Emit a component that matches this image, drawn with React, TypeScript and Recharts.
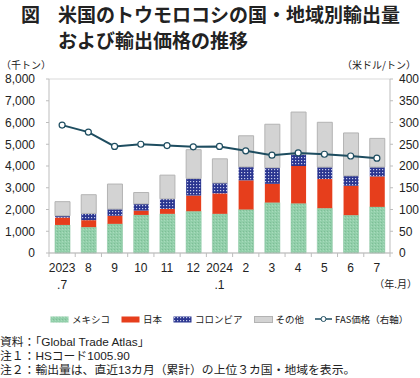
import {
    ComposedChart,
    Bar,
    Line,
    XAxis,
    YAxis,
    CartesianGrid,
} from "recharts";

// months (x categories)
const months = ["2023\n.7", "8", "9", "10", "11", "12", "2024\n.1", "2", "3", "4", "5", "6", "7"];
// export volume by destination (thousand tons)
const mexico = [1290, 1190, 1340, 1750, 1800, 1920, 1800, 2000, 2320, 2280, 2060, 1740, 2120];
const japan = [340, 320, 370, 200, 230, 720, 940, 1340, 860, 1720, 1340, 1350, 1400];
const colombia = [80, 310, 310, 310, 460, 790, 480, 620, 740, 540, 550, 460, 430];
const other = [650, 860, 1150, 520, 1090, 1320, 1110, 1430, 2000, 1940, 2060, 1970, 1320];
// FAS price (USD/ton, right axis)
const price = [294, 278, 245, 250, 247, 244, 245, 235, 225, 230, 227, 223, 218];

const leftTicks = [0, 1000, 2000, 3000, 4000, 5000, 6000, 7000, 8000];
const rightTicks = [0, 50, 100, 150, 200, 250, 300, 350, 400];

const notes = [
    "資料：「Global Trade Atlas」",
    "注１：HSコード1005.90",
    "注２：輸出量は、直近13カ月（累計）の上位３カ国・地域を表示。",
];

const data = months.map((m, i) => ({
    month: m,
    mexico: mexico[i],
    japan: japan[i],
    colombia: colombia[i],
    other: other[i],
    price: price[i],
}));

const W = 420;
const LEFT = 49;
const RIGHT = 30;
const BAND = (W - LEFT - RIGHT) / months.length;
const AXIS = "#BDBDBD";
const LINE = "#1E4D60";
const NUM_FONT = "'Liberation Sans', Arial, 'Noto Sans CJK JP', sans-serif";
const JP_FONT = "'Noto Sans CJK JP', 'Liberation Sans', sans-serif";

const MonthTick = (props: any) => {
    const { x, y, payload, index } = props;
    const lines = String(payload.value).split("\n");
    return (
        <g>
            <line x1={x - BAND / 2} y1={y} x2={x - BAND / 2} y2={y + 4} stroke={AXIS} />
            {index === months.length - 1 && (
                <line x1={x + BAND / 2} y1={y} x2={x + BAND / 2} y2={y + 4} stroke={AXIS} />
            )}
            {lines.map((t, i) => (
                <text
                    key={i}
                    x={x}
                    y={y + 19 + i * 17}
                    textAnchor="middle"
                    fontSize={12}
                    fontFamily={NUM_FONT}
                    fill="#222"
                >
                    {t}
                </text>
            ))}
        </g>
    );
};

const Patterns = () => (
    <svg width={0} height={0} style={{ position: "absolute" }}>
        <defs>
            <pattern id="pMex" width={3} height={3} patternUnits="userSpaceOnUse">
                <rect width={3} height={3} fill="#92CFAA" />
                <rect x={0} y={0} width={1} height={1} fill="#7DBE96" />
                <rect x={2} y={1} width={1} height={1} fill="#A8DBBC" />
            </pattern>
            <pattern id="pCol" width={3} height={3} patternUnits="userSpaceOnUse">
                <rect width={3} height={3} fill="#2A3590" />
                <rect x={1} y={1} width={1.2} height={1.2} fill="#C9CDEB" />
            </pattern>
        </defs>
    </svg>
);

const LegendItem = ({ swatch, label }: { swatch: any; label: string }) => (
    <div style={{ display: "flex", alignItems: "center", marginRight: 11, flexShrink: 0 }}>
        {swatch}
        <span style={{ marginLeft: 3 }}>{label}</span>
    </div>
);

const box = (fill: string, stroke?: string) => (
    <svg width={19} height={7}>
        <rect x={0.5} y={0.5} width={18} height={6} fill={fill} stroke={stroke || "none"} />
    </svg>
);

export default function App() {
    return (
        <div
            style={{
                position: "fixed",
                left: 0,
                top: 0,
                width: 420,
                height: 378,
                background: "#fff",
                fontFamily: JP_FONT,
                color: "#222",
                overflow: "hidden",
            }}
        >
            <Patterns />
            <div style={{ position: "absolute", left: 21, top: 1, fontSize: 19, fontWeight: "bold", lineHeight: "26px" }}>
                図
            </div>
            <div style={{ position: "absolute", left: 58, top: 1, fontSize: 19, fontWeight: "bold", lineHeight: "26px" }}>
                米国のトウモロコシの国・地域別輸出量
                <br />
                および輸出価格の推移
            </div>
            <div style={{ position: "absolute", left: 1, top: 59, fontSize: 10, lineHeight: "12px" }}>（千トン）</div>
            <div style={{ position: "absolute", right: 4, top: 59, fontSize: 10, lineHeight: "12px" }}>（米ドル/トン）</div>
            <div style={{ position: "absolute", right: 3, top: 278, fontSize: 10, lineHeight: "12px" }}>（年.月）</div>

            <div style={{ position: "absolute", left: 0, top: 0 }}>
                <ComposedChart
                    width={W}
                    height={300}
                    data={data}
                    margin={{ top: 79, right: 0, bottom: 17, left: 0 }}
                    barSize={15}
                >
                    <CartesianGrid vertical={false} stroke="#D9D9D9" />
                    <XAxis
                        dataKey="month"
                        interval={0}
                        tickLine={false}
                        tickSize={0}
                        tickMargin={0}
                        height={30}
                        stroke={AXIS}
                        tick={<MonthTick />}
                    />
                    <YAxis
                        yAxisId="left"
                        width={LEFT}
                        domain={[0, 8000]}
                        ticks={leftTicks}
                        tickFormatter={(v: number) => v.toLocaleString("en-US")}
                        tickSize={3}
                        tickMargin={11}
                        stroke={AXIS}
                        tick={{ fill: "#222", fontSize: 12, fontFamily: NUM_FONT }}
                    />
                    <YAxis
                        yAxisId="right"
                        orientation="right"
                        width={RIGHT}
                        domain={[0, 400]}
                        ticks={rightTicks}
                        tickSize={3}
                        tickMargin={6}
                        stroke={AXIS}
                        tick={{ fill: "#222", fontSize: 12, fontFamily: NUM_FONT, textAnchor: "start" }}
                    />
                    <Bar yAxisId="left" dataKey="mexico" stackId="a" fill="url(#pMex)" stroke="#86C59F" strokeWidth={0.6} isAnimationActive={false} />
                    <Bar yAxisId="left" dataKey="japan" stackId="a" fill="#E63E1C" isAnimationActive={false} />
                    <Bar yAxisId="left" dataKey="colombia" stackId="a" fill="url(#pCol)" isAnimationActive={false} />
                    <Bar yAxisId="left" dataKey="other" stackId="a" fill="#D3D3D3" stroke="#B3B3B3" strokeWidth={1} isAnimationActive={false} />
                    <Line
                        yAxisId="right"
                        dataKey="price"
                        stroke={LINE}
                        strokeWidth={2}
                        dot={{ r: 3, fill: "#fff", stroke: LINE, strokeWidth: 1.2 }}
                        isAnimationActive={false}
                    />
                </ComposedChart>
            </div>

            <div
                style={{
                    position: "absolute",
                    left: 50,
                    top: 313,
                    width: 370,
                    display: "flex",
                    flexWrap: "nowrap",
                    whiteSpace: "nowrap",
                    fontSize: 9.5,
                    lineHeight: "12px",
                }}
            >
                <LegendItem swatch={box("url(#pMex)")} label="メキシコ" />
                <LegendItem swatch={box("#E63E1C")} label="日本" />
                <LegendItem swatch={box("url(#pCol)")} label="コロンビア" />
                <LegendItem swatch={box("#D3D3D3", "#B3B3B3")} label="その他" />
                <LegendItem
                    swatch={
                        <svg width={17} height={8}>
                            <line x1={0} y1={4} x2={17} y2={4} stroke={LINE} strokeWidth={1.5} />
                            <circle cx={8.5} cy={4} r={2.5} fill="#fff" stroke={LINE} strokeWidth={1} />
                        </svg>
                    }
                    label="FAS価格（右軸）"
                />
            </div>

            {notes.map((n, i) => (
                <div
                    key={i}
                    style={{
                        position: "absolute",
                        left: 0,
                        top: 335 + i * 14,
                        fontSize: 11.8,
                        lineHeight: "14px",
                        height: 14,
                        whiteSpace: "nowrap",
                        fontFamily: NUM_FONT,
                    }}
                >
                    {n}
                </div>
            ))}
        </div>
    );
}
